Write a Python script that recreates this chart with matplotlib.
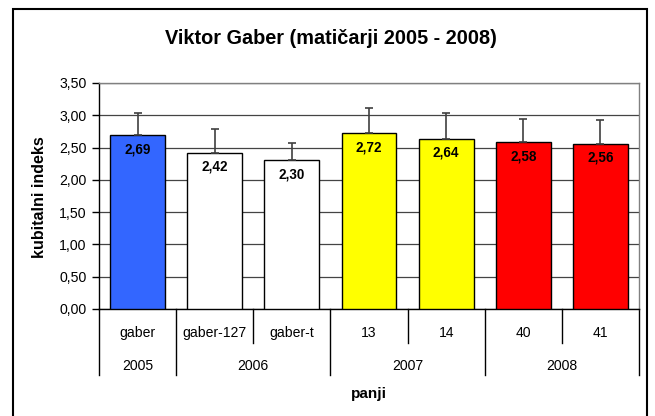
import matplotlib
matplotlib.use("Agg")
import matplotlib.pyplot as plt
import matplotlib.patches as mpatches
from matplotlib.ticker import FuncFormatter, MultipleLocator

plt.rcParams['font.family'] = ['Liberation Sans', 'DejaVu Sans']

categories = ["gaber", "gaber-127", "gaber-t", "13", "14", "40", "41"]
years = ["2005", "2006", "2007", "2008"]
year_counts = [1, 2, 2, 2]
values = [2.69, 2.42, 2.30, 2.72, 2.64, 2.58, 2.56]
errors = [0.35, 0.37, 0.27, 0.40, 0.40, 0.36, 0.36]
colors = ["#3366FF", "#FFFFFF", "#FFFFFF", "#FFFF00", "#FFFF00", "#FF0000", "#FF0000"]
value_labels = ["2,69", "2,42", "2,30", "2,72", "2,64", "2,58", "2,56"]

W, H = 655, 416
fig = plt.figure(figsize=(W / 100, H / 100), dpi=100)
ax = fig.add_axes([99 / W, 1 - 309 / H, (639 - 99) / W, (309 - 83) / H])

x = list(range(len(categories)))
ax.bar(x, values, width=0.71, color=colors, edgecolor="black", linewidth=1.0, zorder=3)
ax.errorbar(x, values, yerr=[[0] * len(errors), errors], fmt="none",
            ecolor="#404040", elinewidth=1.2, capsize=3, capthick=1.2, zorder=4)
for xi, v, lab in zip(x, values, value_labels):
    ax.annotate(lab, (xi, v), xytext=(0, -10), textcoords="offset points",
                ha="center", va="center", fontsize=9.75, fontweight="bold", zorder=5)

ax.set_xlim(-0.5, len(categories) - 0.5)
ax.set_ylim(0, 3.5)
ax.yaxis.set_major_locator(MultipleLocator(0.5))
ax.yaxis.set_major_formatter(FuncFormatter(lambda v, p: f"{v:.2f}".replace(".", ",")))
ax.grid(axis="y", color="#444444", linewidth=0.9, zorder=0)
ax.set_xticks([])
ax.tick_params(axis="y", direction="out", length=5, width=1, labelsize=10.2, pad=4)
for s in ["top", "right"]:
    ax.spines[s].set_color("#808080")
    ax.spines[s].set_linewidth(1)
for s in ["left", "bottom"]:
    ax.spines[s].set_color("black")
    ax.spines[s].set_linewidth(1)

# category labels and separators
tr = ax.get_xaxis_transform()
y_short = -34 / 226
y_long = -66 / 226
long_bounds = {-0.5}
acc = -0.5
for c in year_counts:
    acc += c
    long_bounds.add(acc)
for i in range(len(categories) + 1):
    b = i - 0.5
    yb = y_long if b in long_bounds else y_short
    ax.plot([b, b], [0, yb], transform=tr, color="black", linewidth=1, clip_on=False)
for xi, cat in zip(x, categories):
    ax.text(xi, -24 / 226, cat, transform=tr, ha="center", va="center", fontsize=10.1)
start = 0
for yr, c in zip(years, year_counts):
    center = start + (c - 1) / 2
    ax.text(center, -57 / 226, yr, transform=tr, ha="center", va="center", fontsize=10.1)
    start += c

ax.text(0.5, -85 / 226, "panji", transform=ax.transAxes, ha="center", va="center",
        fontsize=11, fontweight="bold")
fig.text(39 / W, 1 - 197 / H, "kubitalni indeks", rotation=90, ha="center", va="center",
         fontsize=11.5, fontweight="bold")
fig.text(330.5 / W, 1 - 38 / H, "Viktor Gaber (mati\u010darji 2005 - 2008)", ha="center",
         va="center", fontsize=14.3, fontweight="bold")

border = mpatches.Rectangle((13 / W, -0.1), (647 - 13) / W, 1.1 - 9 / H, transform=fig.transFigure,
                            fill=False, edgecolor="black", linewidth=1.5, clip_on=False)
fig.patches.append(border)

fig.savefig("out.png", dpi=100)
